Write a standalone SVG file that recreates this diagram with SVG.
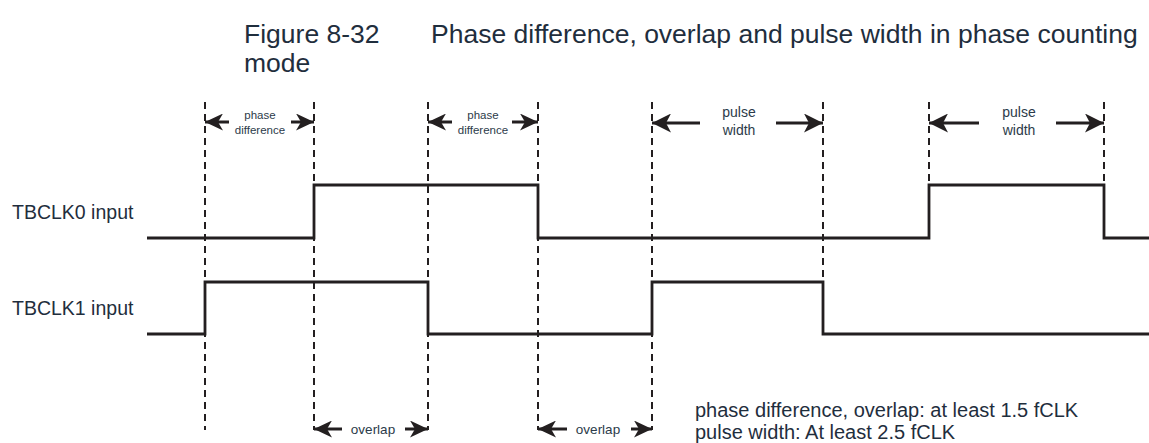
<svg xmlns="http://www.w3.org/2000/svg" width="1149" height="443" viewBox="0 0 1149 443">
  <defs>
    <style>
      .txt { font-family: "Liberation Sans", Arial, sans-serif; fill: #1f2e3d; }
      .title { font-size: 26.5px; }
      .lab { font-size: 19.5px; }
      .note { font-size: 20px; }
      .pd { font-size: 11.5px; text-anchor: middle; fill: #2c3b4a; }
      .pw { font-size: 14px; text-anchor: middle; fill: #2c3b4a; }
      .ov { font-size: 13.5px; text-anchor: middle; fill: #2c3b4a; }
      .wave { fill: none; stroke: #231f20; stroke-width: 2.8; stroke-linejoin: miter; }
      .guide { fill: none; stroke: #231f20; stroke-width: 2; stroke-dasharray: 7 5; }
      .dim { fill: none; stroke: #231f20; stroke-width: 3; }
      .dimS { marker-end: url(#headS); }
      .dimL { marker-end: url(#headL); }
    </style>
    <marker id="headS" viewBox="0 0 18 17" refX="18" refY="8.5" markerWidth="18" markerHeight="17" markerUnits="userSpaceOnUse" orient="auto">
      <path d="M0,0 L18,8.5 L0,17 L5,8.5 Z" fill="#231f20"/>
    </marker>
    <marker id="headL" viewBox="0 0 19 19" refX="19" refY="9.5" markerWidth="19" markerHeight="19" markerUnits="userSpaceOnUse" orient="auto">
      <path d="M0,0 L19,9.5 L0,19 L5,9.5 Z" fill="#231f20"/>
    </marker>
  </defs>

  <g id="title" class="txt title">
    <text x="244" y="43">Figure 8-32</text>
    <text x="431" y="43">Phase difference, overlap and pulse width in phase counting</text>
    <text x="244" y="72">mode</text>
  </g>

  <g id="tbclk0">
    <text class="txt lab" x="12" y="219">TBCLK0 input</text>
    <path class="wave" d="M147,238 H314 V185 H538 V238 H929 V185 H1104 V238 H1149"/>
  </g>

  <g id="tbclk1">
    <text class="txt lab" x="12" y="315">TBCLK1 input</text>
    <path class="wave" d="M147,334 H205 V282 H428 V334 H652 V282 H823 V334 H1149"/>
  </g>

  <g id="connectors">
    <g id="guides">
      <line class="guide" x1="205" y1="102" x2="205" y2="430"/>
      <line class="guide" x1="314" y1="102" x2="314" y2="430"/>
      <line class="guide" x1="428" y1="102" x2="428" y2="430"/>
      <line class="guide" x1="538" y1="102" x2="538" y2="430"/>
      <line class="guide" x1="652" y1="102" x2="652" y2="430"/>
      <line class="guide" x1="823" y1="102" x2="823" y2="283"/>
      <line class="guide" x1="929" y1="102" x2="929" y2="186"/>
      <line class="guide" x1="1104" y1="102" x2="1104" y2="186"/>
    </g>
    <g id="phase-diff-1">
      <line class="dim dimS" x1="229" y1="122" x2="205" y2="122"/>
      <line class="dim dimS" x1="291" y1="122" x2="314" y2="122"/>
    </g>
    <g id="phase-diff-2">
      <line class="dim dimS" x1="452" y1="122" x2="428" y2="122"/>
      <line class="dim dimS" x1="512" y1="122" x2="538" y2="122"/>
    </g>
    <g id="pulse-width-1">
      <line class="dim dimL" x1="700" y1="123" x2="652" y2="123"/>
      <line class="dim dimL" x1="776" y1="123" x2="823" y2="123"/>
    </g>
    <g id="pulse-width-2">
      <line class="dim dimL" x1="979" y1="123" x2="929" y2="123" stroke-width="2.2"/>
      <line class="dim dimL" x1="1056" y1="123" x2="1104" y2="123" stroke-width="2.2"/>
    </g>
    <g id="overlap-1">
      <line class="dim dimS" x1="342" y1="429" x2="314" y2="429"/>
      <line class="dim dimS" x1="405" y1="429" x2="428" y2="429"/>
    </g>
    <g id="overlap-2">
      <line class="dim dimS" x1="567" y1="429" x2="538" y2="429"/>
      <line class="dim dimS" x1="631" y1="429" x2="652" y2="429"/>
    </g>
  </g>

  <g id="label-phase-diff-1" class="txt pd">
    <text x="260" y="119">phase</text>
    <text x="260" y="134">difference</text>
  </g>
  <g id="label-phase-diff-2" class="txt pd">
    <text x="483" y="119">phase</text>
    <text x="483" y="134">difference</text>
  </g>
  <g id="label-pulse-width-1" class="txt pw">
    <text x="739" y="117">pulse</text>
    <text x="739" y="135">width</text>
  </g>
  <g id="label-pulse-width-2" class="txt pw">
    <text x="1019" y="117">pulse</text>
    <text x="1019" y="135">width</text>
  </g>
  <g id="label-overlap-1" class="txt ov">
    <text x="373" y="434">overlap</text>
  </g>
  <g id="label-overlap-2" class="txt ov">
    <text x="598" y="434">overlap</text>
  </g>

  <g id="note" class="txt note">
    <text x="695" y="417">phase difference, overlap: at least 1.5 fCLK</text>
    <text x="695" y="439">pulse width: At least 2.5 fCLK</text>
  </g>
</svg>
